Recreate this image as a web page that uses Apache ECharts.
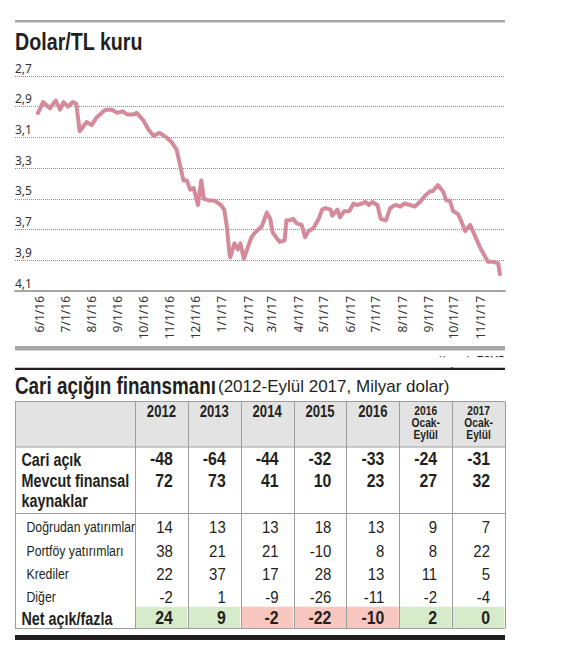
<!DOCTYPE html>
<html><head><meta charset="utf-8">
<script src="https://cdn.jsdelivr.net/npm/echarts@6/dist/echarts.min.js"></script>
<style>html,body{margin:0;padding:0;background:#fff}#c{width:576px;height:650px}</style>
</head><body><div id="c"></div>
<script>
// ---------- DATA: Dolar/TL kuru ----------
const dates = ['2016-05-30','2016-06-05','2016-06-13','2016-06-20','2016-06-25','2016-06-29','2016-07-04','2016-07-10','2016-07-14','2016-07-18',
'2016-07-26','2016-08-01','2016-08-07','2016-08-17','2016-08-25','2016-08-31','2016-09-06','2016-09-12','2016-09-19','2016-09-23',
'2016-10-01','2016-10-07','2016-10-13','2016-10-20','2016-10-28','2016-11-03','2016-11-09','2016-11-11','2016-11-13','2016-11-17',
'2016-11-21','2016-11-25','2016-11-29','2016-12-04','2016-12-08','2016-12-11','2016-12-17','2016-12-23','2016-12-31','2017-01-04',
'2017-01-07','2017-01-10','2017-01-11','2017-01-16','2017-01-20','2017-01-23','2017-01-27','2017-02-01','2017-02-05','2017-02-09',
'2017-02-13','2017-02-17','2017-02-23','2017-02-27','2017-03-02','2017-03-06','2017-03-10','2017-03-16','2017-03-18','2017-03-22',
'2017-03-26','2017-03-30','2017-04-05','2017-04-09','2017-04-13','2017-04-19','2017-04-25','2017-04-29','2017-05-03','2017-05-09',
'2017-05-11','2017-05-17','2017-05-20','2017-05-25','2017-05-31','2017-06-05','2017-06-09','2017-06-15','2017-06-19','2017-06-23',
'2017-06-27','2017-07-03','2017-07-07','2017-07-13','2017-07-18','2017-07-24','2017-07-30','2017-08-04','2017-08-10','2017-08-16',
'2017-08-22','2017-08-28','2017-09-03','2017-09-06','2017-09-12','2017-09-18','2017-09-22','2017-09-26','2017-09-30','2017-10-06',
'2017-10-10','2017-10-14','2017-10-20','2017-10-24','2017-10-28','2017-11-01','2017-11-04','2017-11-10','2017-11-16','2017-11-22','2017-11-24'];
const rates = [2.94,2.87,2.91,2.86,2.92,2.87,2.90,2.87,2.88,3.06,
3.00,3.02,2.97,2.92,2.92,2.94,2.93,2.95,2.95,2.94,
2.99,3.05,3.09,3.07,3.10,3.13,3.18,3.23,3.28,3.38,
3.38,3.44,3.43,3.54,3.38,3.50,3.51,3.51,3.54,3.57,
3.68,3.85,3.88,3.79,3.83,3.79,3.89,3.81,3.75,3.72,
3.70,3.68,3.59,3.63,3.72,3.75,3.78,3.77,3.64,3.64,
3.63,3.66,3.67,3.75,3.71,3.69,3.63,3.57,3.56,3.57,
3.61,3.57,3.62,3.58,3.58,3.53,3.54,3.53,3.52,3.54,
3.52,3.54,3.63,3.64,3.56,3.54,3.55,3.53,3.54,3.55,
3.52,3.48,3.45,3.45,3.41,3.45,3.51,3.51,3.58,3.60,
3.65,3.71,3.67,3.72,3.77,3.82,3.85,3.91,3.91,3.92,3.99];
const axisStart = [2016, 4, 3];   // 2016-05-03
const axisEnd = [2017, 10, 30];   // 2017-11-30
const yMin = 2.7, yMax = 4.1, yStep = 0.2;

// ---------- DATA: Cari açığın finansmanı ----------
const colHeads = [['2012'],['2013'],['2014'],['2015'],['2016'],['2016','Ocak-','Eylül'],['2017','Ocak-','Eylül']];
const rowLabels = ['Cari açık', 'Mevcut finansal\nkaynaklar', 'Doğrudan yatırımlar', 'Portföy yatırımları', 'Krediler', 'Diğer', 'Net açık/fazla'];
const cariAcik = [-48,-64,-44,-32,-33,-24,-31];
const mevcutKaynak = [72,73,41,10,23,27,32];
const dogrudan = [14,13,13,18,13,9,7];
const portfoy = [38,21,21,-10,8,8,22];
const krediler = [22,37,17,28,13,11,5];
const diger = [-2,1,-9,-26,-11,-2,-4];
const netAcik = [24,9,-2,-22,-10,2,0];

// ---------- axis scaffolding ----------
const days = [];
for (let t = Date.UTC(...axisStart); t <= Date.UTC(...axisEnd); t += 86400000) {
  days.push(new Date(t).toISOString().slice(0, 10));
}
const fmtDate = v => (+v.slice(5,7)) + '/' + (+v.slice(8,10)) + '/' + v.slice(2,4);

// ---------- layout / style ----------
const SANS = '"Liberation Sans", Arial, sans-serif';
const NARROW_SCALE = 0.82;   // Liberation Sans squeezed to narrow proportions
const INK = '#231f20';
const GRID = '#9d9d9d';
const L = 15, R = 505;
const g = [];
function txt(text, x, y, size, bold, align, scale, color) {
  g.push({ type: 'text', silent: true, x: x, y: y,
    scaleX: scale == null ? NARROW_SCALE : scale, scaleY: 1,
    style: {
      text: text, x: 0, y: 0, fill: color || INK, fontSize: size,
      fontWeight: bold ? 'bold' : 'normal', fontFamily: SANS,
      align: align || 'left', verticalAlign: 'middle' } });
}
function rect(x, y, w, h, fill) {
  g.push({ type: 'rect', silent: true, shape: { x: x, y: y, width: w, height: h }, style: { fill: fill } });
}
function hline(x1, x2, y, color, w) {
  g.push({ type: 'line', silent: true, shape: { x1: x1, y1: y, x2: x2, y2: y }, style: { stroke: color, lineWidth: w || 1 } });
}
function vline(x, y1, y2, color, w) {
  g.push({ type: 'line', silent: true, shape: { x1: x, y1: y1, x2: x, y2: y2 }, style: { stroke: color, lineWidth: w || 1 } });
}

// top part
rect(L, 20, R - L, 2.5, '#a6a6a6');
txt('Dolar/TL kuru', L, 41.5, 24, true);
rect(L, 346, R - L, 4.5, '#a6a6a6');
txt('Kaynak: TCMB', R, 361, 12, false, 'right');
rect(380, 357.3, 130, 10, '#ffffff');
rect(L, 367.8, R - L, 2.3, INK);

// table title
txt('Cari açığın finansmanı', L, 385.5, 23, true);
txt('(2012-Eylül 2017, Milyar dolar)', 218, 386, 17, false, 'left', 1.0);

// table
const tTop = 401.5, tHeadBot = 447, tBot = 628.5, labelW = 120;
const colW = (R - L - labelW) / 7;
const colX = i => L + labelW + i * colW;
rect(L, tTop, R - L, tHeadBot - tTop, '#e3e3e3');
const rowVals = [cariAcik, mevcutKaynak, dogrudan, portfoy, krediler, diger, netAcik];
const rowY = [459.5, 481, 527.5, 551.5, 574.5, 597.5, 618.5];
const rowBold = [true, true, false, false, false, false, true];
// net row fills
netAcik.forEach((v, i) => rect(colX(i) + 0.5, 606.8, colW - 1, tBot - 606.8, v >= 0 ? '#d6ebc9' : '#f8c8c0'));
hline(L, R, tTop, GRID);
hline(L, R, tHeadBot, GRID);
hline(L, R, 513.5, GRID);
hline(L, R, tBot, GRID);
vline(L + 0.5, tTop, tBot, GRID);
for (let i = 0; i <= 7; i++) vline(Math.round(colX(i)) + 0.5, tTop, tBot, GRID);
// header
colHeads.forEach((h, i) => {
  const cx = colX(i) + colW / 2;
  if (h.length === 1) txt(h[0], cx, 411.7, 16, true, 'center');
  else h.forEach((s, k) => txt(s, cx, 410.5 + k * 12.3, 12.5, true, 'center'));
});
// rows
rowLabels.forEach((lab, r) => {
  const lines = lab.split('\n');
  const bold = rowBold[r];
  lines.forEach((s, k) => txt(s, bold ? 21.5 : 26.5, rowY[r] + k * 19.5, bold ? 17.5 : 15, bold));
  rowVals[r].forEach((v, i) => txt(String(v), colX(i + 1) - 15, rowY[r], bold ? 18 : 17, bold, 'right', 0.88));
});
rect(L, 635, R - L, 5, INK);

const chart = echarts.init(document.getElementById('c'), null, { renderer: 'svg' });
chart.setOption({
  animation: false,
  grid: { left: L, right: 576 - R, top: 76, bottom: 650 - 291, containLabel: false },
  xAxis: {
    type: 'category', data: days, boundaryGap: false,
    axisLine: { lineStyle: { color: '#a6a6a6', width: 2 } },
    axisTick: { show: false },
    axisLabel: {
      interval: (idx, val) => val.slice(8) === '01',
      rotate: 90, margin: 5, fontSize: 12, color: '#333',
      fontFamily: '"Noto Sans", sans-serif', formatter: fmtDate
    },
    splitLine: { show: false }
  },
  yAxis: {
    type: 'value', inverse: true, min: yMin, max: yMax, interval: yStep,
    axisLine: { show: false }, axisTick: { show: false },
    splitLine: { lineStyle: { type: 'dotted', color: '#8a8a8a', width: 1 } },
    axisLabel: {
      inside: true, margin: 0, verticalAlign: 'bottom', padding: [0, 0, 2, 0],
      fontSize: 12, color: '#333', fontFamily: '"Noto Sans", sans-serif',
      formatter: v => v.toFixed(1).replace('.', ',')
    }
  },
  series: [{
    type: 'line', data: dates.map((d, i) => [d, rates[i]]),
    showSymbol: false, symbol: 'none',
    lineStyle: { color: '#d48a9b', width: 4, join: 'round', cap: 'round' }
  }],
  graphic: g
});
</script></body></html>
